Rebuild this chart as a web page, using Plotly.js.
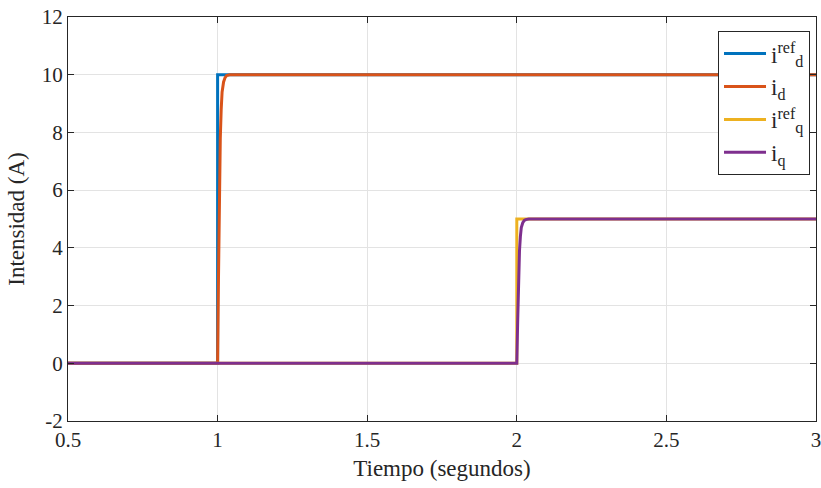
<!DOCTYPE html>
<html>
<head>
<meta charset="utf-8">
<script src="https://cdn.plot.ly/plotly-3.0.1.min.js"></script>
<style>html,body{margin:0;padding:0;background:#fff;}#chart{width:821px;height:488px;}</style>
</head>
<body>
<div id="chart"></div>
<script>
// Reference currents (step)
const tIdRef = [0.5, 1.0, 1.0, 3.0];
const idRef  = [0, 0, 10, 10];
// Measured d-axis current
const tId = [0.5, 1.0, 1.003, 1.006, 1.009, 1.012, 1.015, 1.02, 1.025, 1.03, 1.04, 3.0];
const id  = [0, 0, 3.0, 6.0, 7.8, 8.8, 9.4, 9.75, 9.9, 9.97, 10, 10];
// q-axis reference
const tIqRef = [0.5, 2.0, 2.0, 3.0];
const iqRef  = [0, 0, 5, 5];
// Measured q-axis current
const tIq = [0.5, 2.0, 2.003, 2.006, 2.009, 2.012, 2.015, 2.02, 2.025, 2.03, 2.04, 3.0];
const iq  = [0, 0, 1.5, 3.0, 3.9, 4.4, 4.7, 4.87, 4.95, 4.98, 5, 5];
// Tick positions and labels
const xTicks = [0.5, 1, 1.5, 2, 2.5, 3];
const xTickText = ['0.5', '1', '1.5', '2', '2.5', '3'];
const yTicks = [-2, 0, 2, 4, 6, 8, 10, 12];
const yTickText = ['-2', '0', '2', '4', '6', '8', '10', '12'];

const names = ['i<sup>ref</sup><sub>d</sub>', 'i<sub>d</sub>', 'i<sup>ref</sup><sub>q</sub>', 'i<sub>q</sub>'];
const colors = ['#0072BD', '#D95319', '#EDB120', '#7E2F8E'];
const xs = [tIdRef, tId, tIqRef, tIq];
const ys = [idRef, id, iqRef, iq];

const FONT = 'Liberation Serif';

const traces = xs.map((x, i) => ({
  x: x, y: ys[i], type: 'scatter', mode: 'lines', name: names[i],
  line: {color: colors[i], width: 3}
}));

function axis(extra) {
  return Object.assign({
    showline: true, mirror: 'ticks', linecolor: '#262626', linewidth: 1,
    ticks: 'inside', ticklen: 6, tickcolor: '#262626',
    showgrid: true, gridcolor: '#e3e3e3', gridwidth: 1, zeroline: false,
    ticklabeloverflow: 'allow',
    tickfont: {family: FONT, size: 21, color: '#262626'}
  }, extra);
}

const layout = {
  width: 821, height: 488,
  margin: {l: 68, r: 5, t: 17, b: 67},
  paper_bgcolor: '#fff', plot_bgcolor: '#fff',
  font: {family: FONT, size: 21, color: '#262626'},
  xaxis: axis({
    range: [0.5, 3], tickmode: 'array', tickvals: xTicks, ticktext: xTickText,
    title: {text: 'Tiempo (segundos)', font: {family: FONT, size: 23, color: '#262626'}, standoff: 8}
  }),
  yaxis: axis({
    range: [-2, 12], tickmode: 'array', tickvals: yTicks, ticktext: yTickText,
    title: {text: 'Intensidad (A)', font: {family: FONT, size: 23, color: '#262626'}, standoff: 10}
  }),
  showlegend: true,
  legend: {
    x: 0.869, y: 0.965, xanchor: 'left', yanchor: 'top',
    bgcolor: '#fff', bordercolor: '#262626', borderwidth: 1,
    font: {family: FONT, size: 23, color: '#262626'},
    tracegroupgap: 0, itemwidth: 42
  }
};

Plotly.newPlot('chart', traces, layout, {displayModeBar: false});
</script>
</body>
</html>
